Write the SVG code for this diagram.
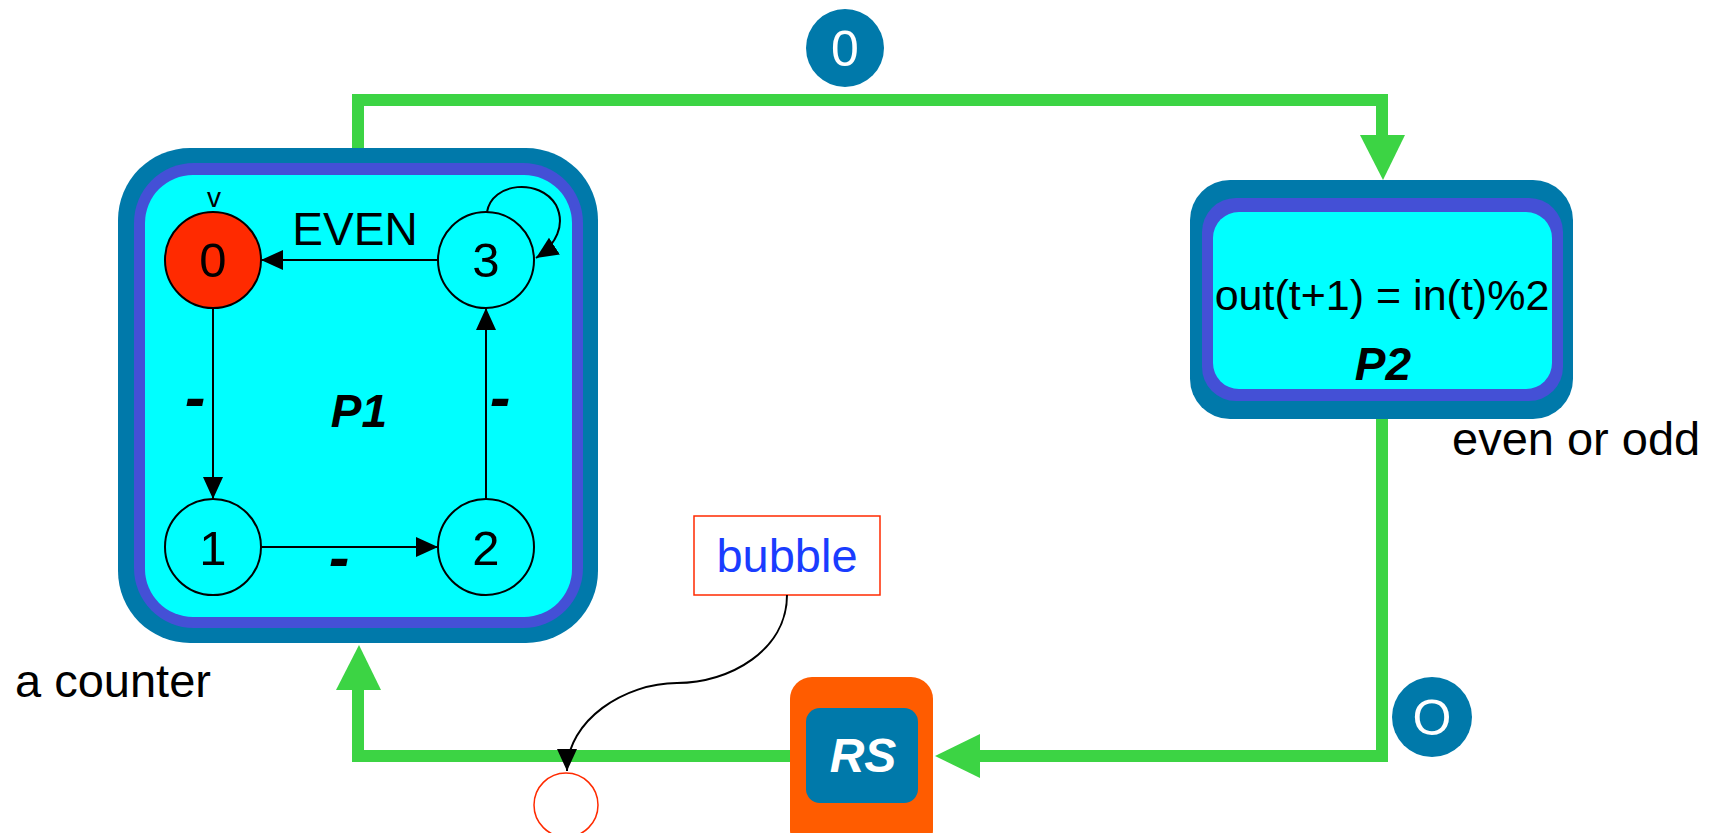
<svg xmlns="http://www.w3.org/2000/svg" width="1722" height="833" viewBox="0 0 1722 833">
<style>
text{font-family:"Liberation Sans",Arial,sans-serif;}
.lbl{font-size:46px;fill:#000;text-anchor:middle;}
.dg{font-size:49px;fill:#000;text-anchor:middle;}
.bi{font-size:46px;font-weight:bold;font-style:italic;fill:#000;text-anchor:middle;}
.dash{font-size:62px;font-weight:bold;font-style:italic;fill:#000;text-anchor:middle;}
.st{fill:#00FFFF;stroke:#000;stroke-width:2;}
.tr{fill:none;stroke:#000;stroke-width:2;}
.gr{fill:none;stroke:#3CD444;stroke-width:12;}
.gh{fill:#3CD444;}
.badge{fill:#0079AA;}
.bt{font-size:50px;fill:#fff;text-anchor:middle;}
</style>
<defs>
<marker id="ah" markerUnits="userSpaceOnUse" markerWidth="24" markerHeight="22" refX="22" refY="10" orient="auto">
<path d="M0,0 L22,10 L0,20 Z" fill="#000"/>
</marker>
</defs>
<rect width="1722" height="833" fill="#fff"/>

<g id="P1">
<rect x="118" y="148" width="480" height="495" rx="72" fill="#0079AA"/>
<rect x="134" y="163" width="449" height="465" rx="60" fill="#4450D6"/>
<rect x="145" y="175" width="427" height="442" rx="48" fill="#00FFFF"/>
<text class="bi" x="359" y="427">P1</text>
</g>

<g id="state0">
<circle cx="213" cy="260" r="48" fill="#FF2A00" stroke="#000" stroke-width="2"/>
<text class="dg" x="213" y="277">0</text>
<text x="214" y="207" font-size="28" text-anchor="middle">v</text>
</g>
<g id="state1">
<circle class="st" cx="213" cy="547" r="48"/>
<text class="dg" x="213" y="565">1</text>
</g>
<g id="state2">
<circle class="st" cx="486" cy="547" r="48"/>
<text class="dg" x="486" y="565">2</text>
</g>
<g id="state3">
<circle class="st" cx="486" cy="260" r="48"/>
<text class="dg" x="486" y="277">3</text>
</g>

<g id="P2">
<rect x="1190" y="180" width="383" height="239" rx="40" fill="#0079AA"/>
<rect x="1202" y="198" width="361" height="203" rx="34" fill="#4450D6"/>
<rect x="1213" y="212" width="339" height="177" rx="26" fill="#00FFFF"/>
<text x="1382" y="310" font-size="43" text-anchor="middle">out(t+1) = in(t)%2</text>
<text class="bi" x="1383" y="380" font-size="44">P2</text>
</g>

<g id="RS">
<rect x="790" y="677" width="143" height="175" rx="22" fill="#FF5C00"/>
<rect x="806" y="708" width="112" height="95" rx="14" fill="#0079AA"/>
<text x="863" y="772" font-size="48" font-weight="bold" font-style="italic" fill="#fff" text-anchor="middle">RS</text>
</g>

<g id="bubble">
<rect x="694" y="516" width="186" height="79" fill="#fff" stroke="#FF2A00" stroke-width="1.5"/>
<text x="787" y="572" font-size="47" fill="#1A3CFF" text-anchor="middle">bubble</text>
</g>

<g id="bubbleTarget">
<circle cx="566" cy="805" r="32" fill="#fff" stroke="#FF2A00" stroke-width="1.5"/>
</g>

<g id="labels">
<text x="15" y="697" font-size="47">a counter</text>
<text x="1452" y="455" font-size="47">even or odd</text>
</g>

<g id="connectors">
<path class="gr" d="M358,148 L358,100 L1382,100 L1382,140"/>
<polygon class="gh" points="1360,135 1405,135 1383,180"/>
<path class="gr" d="M1382,419 L1382,756 L975,756"/>
<polygon class="gh" points="980,734 980,778 935,756"/>
<path class="gr" d="M790,756 L358,756 L358,685"/>
<polygon class="gh" points="336,690 381,690 359,645"/>

<path class="tr" d="M438,260 L261,260" marker-end="url(#ah)"/>
<text class="lbl" x="355" y="245">EVEN</text>
<path class="tr" d="M213,308 L213,499" marker-end="url(#ah)"/>
<text class="dash" x="195" y="418">-</text>
<path class="tr" d="M261,547 L438,547" marker-end="url(#ah)"/>
<text class="dash" x="339" y="578">-</text>
<path class="tr" d="M486,499 L486,308" marker-end="url(#ah)"/>
<text class="dash" x="500" y="418">-</text>
<path class="tr" d="M487,212 C492,182 540,178 556,205 C566,225 556,245 536,258" marker-end="url(#ah)"/>

<path class="tr" d="M787,595 C787,650 730,683 677,683 C625,683 567,720 567,771" marker-end="url(#ah)"/>
</g>

<g id="badges">
<circle class="badge" cx="845" cy="48" r="39"/>
<text class="bt" x="845" y="66">0</text>
<circle class="badge" cx="1432" cy="717" r="40"/>
<text class="bt" x="1432" y="735">O</text>
</g>
</svg>
